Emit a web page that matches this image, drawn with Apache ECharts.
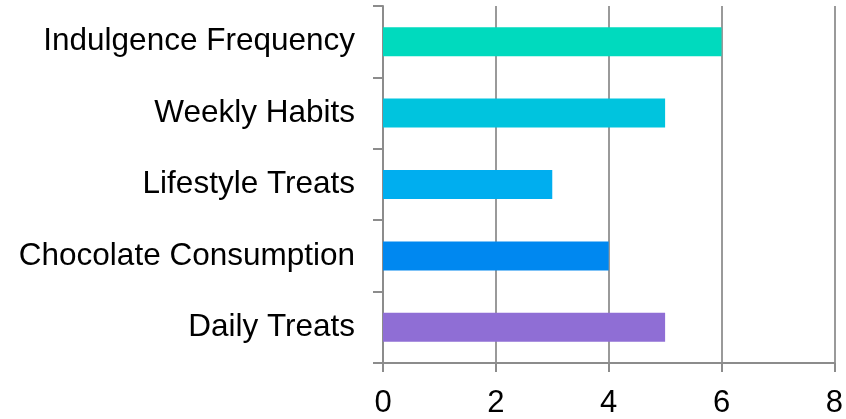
<!DOCTYPE html>
<html>
<head>
<meta charset="utf-8">
<script src="https://cdn.jsdelivr.net/npm/echarts@6/dist/echarts.min.js"></script>
<style>html,body{margin:0;padding:0;background:#fff}#c{width:846px;height:419px}</style>
</head>
<body>
<div id="c"></div>
<script>
var categories = ["Daily Treats", "Chocolate Consumption", "Lifestyle Treats", "Weekly Habits", "Indulgence Frequency"];
var values = [5, 4, 3, 5, 6];
var barColors = ["#8F6ED5", "#0088F0", "#00AEEF", "#00C4DE", "#00DABE"];
var xTicks = [0, 2, 4, 6, 8];

var chart = echarts.init(document.getElementById('c'), null, {renderer: 'canvas'});
chart.setOption({
  animation: false,
  grid: {left: 383, right: 10, top: 6, bottom: 54, containLabel: false},
  xAxis: {
    type: 'value', min: xTicks[0], max: xTicks[xTicks.length - 1], interval: 2,
    axisLine: {show: true, lineStyle: {color: '#8c8c8c', width: 2}},
    axisTick: {show: true, length: 9, lineStyle: {color: '#8c8c8c', width: 2}},
    splitLine: {show: true, lineStyle: {color: '#9a9a9a', width: 2}},
    axisLabel: {color: '#000', fontFamily: 'Liberation Sans, Arial, sans-serif', fontSize: 31, margin: 25}
  },
  yAxis: {
    type: 'category', data: categories,
    axisLine: {show: true, lineStyle: {color: '#8c8c8c', width: 2}},
    axisTick: {show: true, length: 10, lineStyle: {color: '#8c8c8c', width: 2}},
    axisLabel: {color: '#000', fontFamily: 'Liberation Sans, Arial, sans-serif', fontSize: 31.5, margin: 28}
  },
  series: [{
    type: 'bar',
    data: values.map(function (v, i) { return {value: v, itemStyle: {color: barColors[i]}}; }),
    barWidth: 29
  }]
});
</script>
</body>
</html>
